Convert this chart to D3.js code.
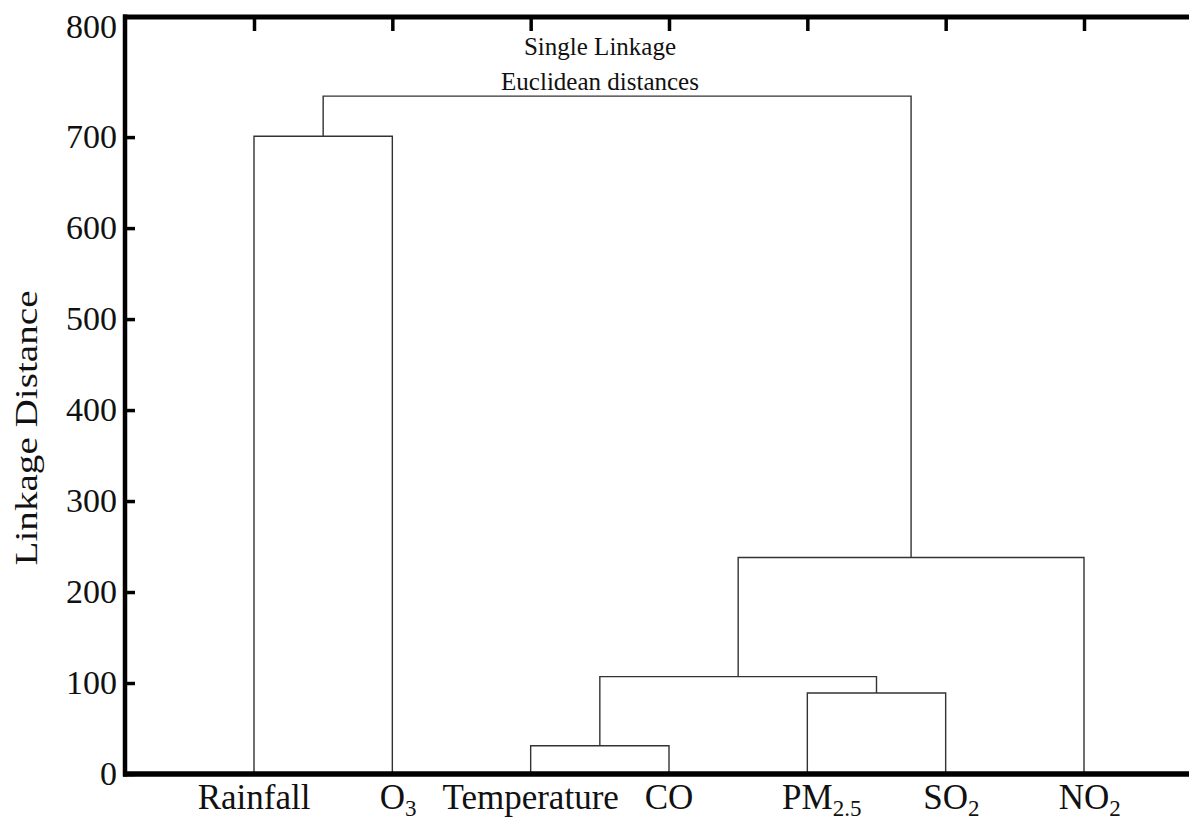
<!DOCTYPE html>
<html>
<head>
<meta charset="utf-8">
<script src="https://cdn.jsdelivr.net/npm/d3@7"></script>
<style>
  body { margin: 0; background: #fff; }
  svg text { font-family: "Liberation Serif", "Times New Roman", serif; fill: #111; }
</style>
</head>
<body>
<svg id="chart" width="1189" height="823"></svg>
<script>
// leaves, left to right
const leaves = ["Rainfall", "O3", "Temperature", "CO", "PM2.5", "SO2", "NO2"]
const leafBase = ["Rainfall", "O", "Temperature", "CO", "PM", "SO", "NO"]
const leafSub = ["", "3", "", "", "2.5", "2", "2"]

// merges (single linkage), bottom-up
const mergeNames = ["c1", "c2", "c3", "c4", "c5", "root"]
const mergeChildren = [["Rainfall", "O3"], ["Temperature", "CO"], ["PM2.5", "SO2"], ["c2", "c3"], ["c4", "NO2"], ["c1", "c5"]]
const mergeHeights = [701, 31, 89, 107, 238, 745]

const yTicks = [0, 100, 200, 300, 400, 500, 600, 700, 800]
const titleLines = ["Single Linkage", "Euclidean distances"]
const yTitle = "Linkage Distance"

let svg = d3.select("#chart")
let W = 1189, H = 823
let mLeft = 125, mTop = 17, mBottom = 774

let x = d3.scalePoint().domain(leaves).range([254, 1084])
let y = d3.scaleLinear().domain([0, 832]).range([mBottom, mTop])

// node positions
let pos = {}
leaves.forEach(d => pos[d] = {x: x(d), h: 0})
mergeNames.forEach((m, i) => {
	let [a, b] = mergeChildren[i]
	pos[m] = {x: (pos[a].x + pos[b].x) / 2, h: mergeHeights[i], a: a, b: b}
})

// dendrogram links
let g = svg.append("g").attr("class", "tree")
	.attr("fill", "none").attr("stroke", "#333").attr("stroke-width", 1.4)

mergeNames.forEach(m => {
	let n = pos[m], a = pos[n.a], b = pos[n.b]
	g.append("path")
		.attr("d", "M" + a.x + "," + y(a.h) + "V" + y(n.h) + "H" + b.x + "V" + y(b.h))
})

// left axis, ticks pointing in
let yaxis = d3.axisLeft(y).tickValues(yTicks).tickSize(-10).tickPadding(8)
let ga = svg.append("g")
	.attr("transform", "translate(" + mLeft + ",0)")
	.call(yaxis)
ga.select(".domain").remove()
ga.selectAll(".tick line").attr("stroke", "#000").attr("stroke-width", 3.5)
ga.selectAll(".tick text")
	.style("font-family", "'Liberation Serif', serif")
	.attr("font-size", 34).attr("fill", "#111")
// 800 sits on the frame top, no tick mark
ga.selectAll(".tick").filter(d => d === 800)
	.call(t => t.select("line").remove())
	.select("text").attr("y", mTop - y(800) + 10)

// top axis: tick marks at leaves, pointing down
let xtop = d3.axisTop(x).tickSize(-14).tickFormat("")
let gt = svg.append("g")
	.attr("transform", "translate(0," + mTop + ")")
	.call(xtop)
gt.select(".domain").remove()
gt.selectAll(".tick line").attr("stroke", "#000").attr("stroke-width", 3.5)

// frame lines
svg.append("line").attr("x1", mLeft).attr("x2", mLeft).attr("y1", mTop - 2.5).attr("y2", mBottom + 2.5)
	.attr("stroke", "#000").attr("stroke-width", 4.5)
svg.append("line").attr("x1", mLeft - 2).attr("x2", W).attr("y1", mTop).attr("y2", mTop)
	.attr("stroke", "#000").attr("stroke-width", 5)
svg.append("line").attr("x1", mLeft - 2).attr("x2", W).attr("y1", mBottom).attr("y2", mBottom)
	.attr("stroke", "#000").attr("stroke-width", 5.5)

// leaf labels with subscripts; the main part is centred on the leaf
let lab = svg.append("g").selectAll("text")
	.data(leaves)
	.enter()
	.append("text")
	  .attr("y", mBottom + 35)
	  .attr("font-size", 35)
lab.append("tspan").attr("class", "base").text((d, i) => leafBase[i])
lab.filter((d, i) => leafSub[i] !== "")
	.append("tspan")
	  .attr("font-size", 23)
	  .attr("dy", 7)
	  .text(d => leafSub[leaves.indexOf(d)])
lab.each(function(d){
	let w = d3.select(this).select("tspan.base").node().getComputedTextLength()
	d3.select(this).attr("x", x(d) - w / 2)
})

// titles
svg.selectAll("text.title")
	.data(titleLines)
	.enter()
	.append("text")
	  .attr("class", "title")
	  .attr("x", 600)
	  .attr("y", (d, i) => 55 + i * 35)
	  .attr("text-anchor", "middle")
	  .attr("font-size", 25)
	  .text(d => d)

// axis title, stretched along its length like the source
let yt = svg.append("text")
	.attr("text-anchor", "middle")
	.attr("font-size", 32)
	.text(yTitle)
let ytLen = yt.node().getComputedTextLength()
yt.attr("transform", "translate(37,428) rotate(-90) scale(" + (275 / ytLen) + ",1)")
</script>
</body>
</html>
